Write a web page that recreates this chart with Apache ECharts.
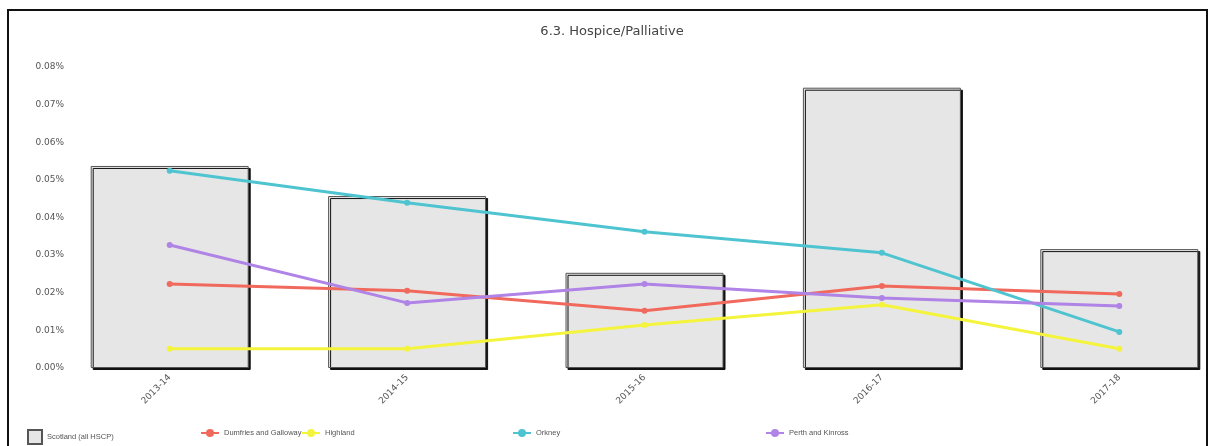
<!DOCTYPE html>
<html>
<head>
<meta charset="utf-8">
<script src="https://cdn.jsdelivr.net/npm/echarts@6/dist/echarts.min.js"></script>
<style>
  html, body { margin: 0; padding: 0; background: #fff; }
  #frame { position: absolute; left: 7px; top: 9px; width: 1197px; height: 450px; border: 2px solid #111; border-bottom: none; }
  #chart { position: absolute; left: 0; top: 0; width: 1213px; height: 446px; }
</style>
</head>
<body>
<div id="frame"></div>
<div id="chart"></div>
<script>
// values in percent
const categories = ['2013-14', '2014-15', '2015-16', '2016-17', '2017-18']
const scotland = [0.0537, 0.0457, 0.0253, 0.0745, 0.0316]
const dumfries = [0.0223, 0.0205, 0.0152, 0.0218, 0.0197]
const highland = [0.0051, 0.0051, 0.0114, 0.0168, 0.0051]
const orkney = [0.0524, 0.0439, 0.0362, 0.0306, 0.0096]
const perth = [0.0327, 0.0173, 0.0223, 0.0186, 0.0165]
const names = ['Scotland (all HSCP)', 'Dumfries and Galloway', 'Highland', 'Orkney', 'Perth and Kinross']
const colors = ['#e6e6e6', '#f0695c', '#f4f43c', '#4ec4d0', '#b083e6']
const legendLeft = [22, 195, 296, 507, 760]

const myChart = echarts.init(document.getElementById('chart'))

const lineSeries = (name, data, color) => ({
  name: name,
  type: 'line',
  data: data,
  symbol: 'circle',
  symbolSize: 6,
  itemStyle: { color: color },
  lineStyle: { width: 3, color: color },
  z: 3
})

const option = {
  animation: false,
  textStyle: { fontFamily: 'DejaVu Sans' },
  title: {
    text: '6.3. Hospice/Palliative',
    left: 607,
    textAlign: 'center',
    top: 20,
    textStyle: { fontSize: 13, fontWeight: 'normal', color: '#444' }
  },
  // one legend per item so each sits at its own x position
  legend: names.map((n, i) => ({
    data: [n],
    left: legendLeft[i],
    top: 424,
    itemWidth: i === 0 ? 14 : 18,
    itemHeight: i === 0 ? 14 : 10,
    itemGap: 4,
    icon: i === 0 ? 'rect' : undefined,
    textStyle: { fontSize: 7.5, color: '#555', fontFamily: 'Liberation Sans' }
  })),
  grid: { left: 51, top: 67, width: 1187, bottom: 78, outerBoundsMode: 'none' },
  xAxis: {
    type: 'category',
    data: categories,
    axisLine: { show: false },
    axisTick: { show: false },
    axisLabel: { rotate: 45, fontSize: 9, color: '#555', margin: 8 }
  },
  yAxis: {
    type: 'value',
    min: 0,
    max: 0.08,
    interval: 0.01,
    offset: -17,
    splitLine: { show: false },
    axisLine: { show: false },
    axisTick: { show: false },
    axisLabel: {
      fontSize: 9,
      color: '#555',
      margin: 4,
      formatter: v => v.toFixed(2) + '%'
    }
  },
  series: [
    {
      name: names[0],
      type: 'bar',
      data: scotland,
      barWidth: 158,
      itemStyle: {
        color: colors[0],
        borderColor: '#555',
        borderWidth: 1,
        shadowColor: '#111',
        shadowOffsetX: 2,
        shadowOffsetY: 2,
        shadowBlur: 0
      },
      z: 1
    },
    lineSeries(names[1], dumfries, colors[1]),
    lineSeries(names[2], highland, colors[2]),
    lineSeries(names[3], orkney, colors[3]),
    lineSeries(names[4], perth, colors[4])
  ]
}

option && myChart.setOption(option)
</script>
</body>
</html>
